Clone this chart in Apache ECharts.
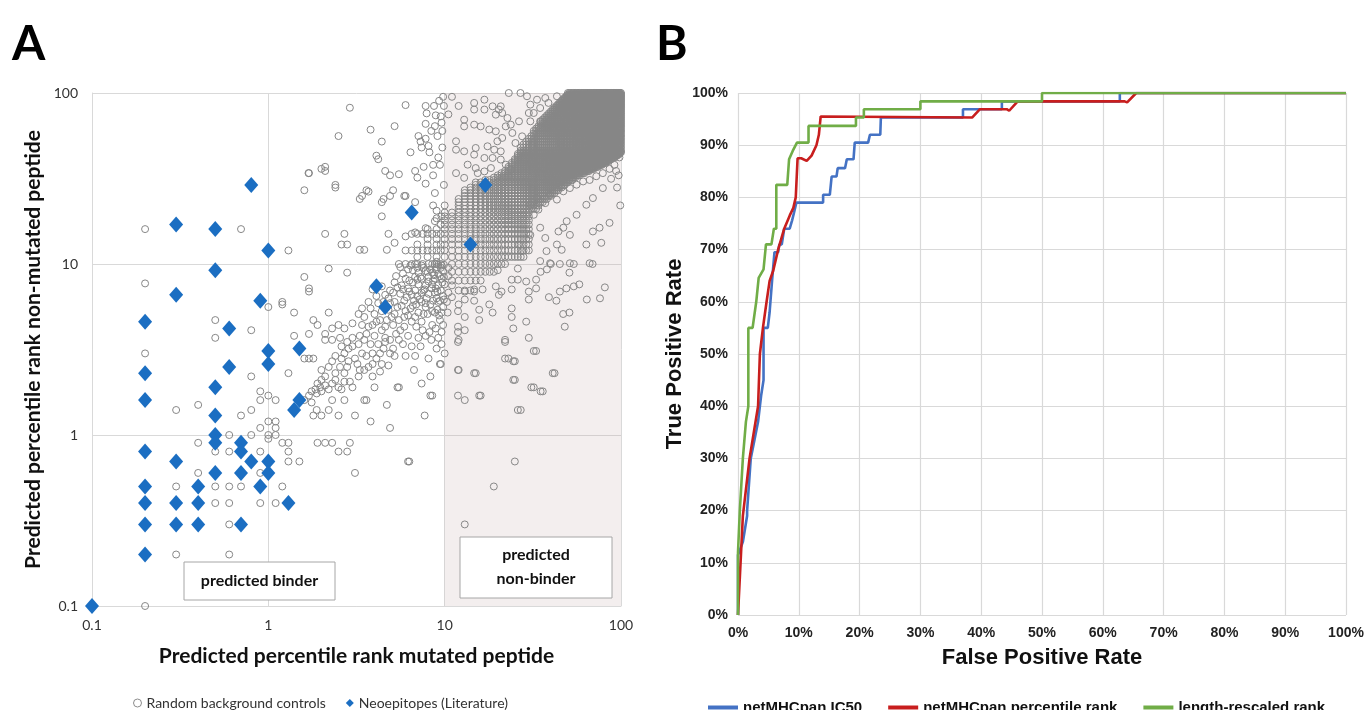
<!DOCTYPE html>
<html>
<head>
<meta charset="utf-8">
<script src="https://cdn.jsdelivr.net/npm/echarts@6/dist/echarts.min.js"></script>
<style>
html,body{margin:0;padding:0;background:#fff;}
#chart{width:1368px;height:710px;}
</style>
</head>
<body>
<div id="chart"></div>
<script>
var chart = echarts.init(document.getElementById('chart'));

// ---- panel A : percentile ranks (x = mutated, y = non-mutated) ----
var rankTicks = [0.1, 1, 10, 100];
var bgName = 'Random background controls';
var neoName = 'Neoepitopes (Literature)';

// background controls, binder side (x <= ~1.5)
var bgBinderSide = [
  [0.2,16],[0.7,16],[0.2,7.7],[1.3,12],[0.5,4.7],[0.5,3.7],[0.8,4.1],[1.0,5.6],[1.2,6.0],[0.2,3.0],
  [0.3,1.4],[0.4,1.5],[0.7,1.3],[0.8,1.4],[0.9,1.8],[1.0,1.7],[1.1,1.6],[0.9,1.6],[0.8,2.2],[1.3,2.3],
  [0.6,1.0],[0.8,1.0],[0.9,1.1],[1.0,1.2],[1.1,1.2],[1.0,1.0],[1.1,1.1],[1.1,1.0],[1.2,0.9],[0.4,0.9],
  [0.5,0.8],[0.6,0.8],[0.9,0.8],[1.3,0.8],[1.3,0.7],[1.5,0.7],[0.4,0.6],[0.9,0.6],[0.3,0.5],[0.5,0.5],
  [0.6,0.5],[0.7,0.5],[1.2,0.5],[0.5,0.4],[0.6,0.4],[0.9,0.4],[1.1,0.4],[0.6,0.3],[0.3,0.2],[0.6,0.2],
  [0.2,0.1],[1.0,0.95],[1.4,5.2],[1.2,5.8],[1.4,3.8],[1.3,0.9]
];

// background controls, 1.5 < x < 10
var bgMiddle = [
  [1.9,0.9],[2.1,0.9],[2.3,0.9],[2.9,0.9],[2.5,0.8],[2.8,0.8],[6.2,0.7],[6.3,0.7],[3.1,0.6],
  [2.2,1.4],[2.5,1.3],[3.1,1.3],[3.6,1.6],[4.7,1.5],[5.4,1.9],[4.9,1.1],[7.7,1.3],[8.3,1.7],[8.3,2.2],
  [9.4,2.6],[3.5,1.6],[3.8,1.2],[8.5,1.7],[8.1,2.8],[5.5,1.9],[8.4,3.6],[9.0,3.2],[9.5,2.6],
  [6.0,10],[6.4,9.8],[6.8,10],[7.4,9.8],[8.1,10],[8.8,10],[9.6,9.8],[7.1,8.9],[7.8,9.1],[8.5,8.9],
  [9.2,8.75],[9.8,9.1],[6.8,8.4],[7.4,8.2],[8.1,8.4],[8.8,8.2],[9.6,8.2],[7.1,7.6],[7.8,7.5],[8.5,7.6],
  [9.2,7.5],[10,7.6],[5.2,7.8],[5.7,7.5],[6.2,7.2],[6.8,7.0],[7.4,6.8],[8.1,6.7],[8.8,6.8],[9.8,6.5],
  [5.1,6.8],[5.6,6.7],[6.1,6.4],[6.7,6.1],[7.4,6.0],[8.3,5.8],[9.2,6.0],[9.8,5.6],[4.8,6.3],[5.2,6.0],
  [5.7,5.7],[6.4,5.5],[7.1,5.2],[8.0,5.1],[8.8,5.2],[4.8,5.4],[5.2,5.1],[5.9,4.9],[6.5,4.6],[7.4,4.6],
  [8.5,4.4],[9.4,4.7],[4.7,4.7],[5.1,4.4],[5.6,4.1],[6.2,3.8],[7.1,3.7],[7.8,3.8],[9.2,3.7],[9.6,4.0],
  [5.5,3.6],[6.6,9.2],[7.6,9.5],[8.3,9.3],[9.0,9.6],[6.3,8.0],[7.0,8.1],[8.6,8.0],[9.4,8.5],[7.7,7.1],
  [8.9,7.2],[9.5,7.0],[6.5,6.6],[7.9,6.3],[9.0,6.3],[5.9,6.1],[6.9,5.8],[7.8,5.6],[9.1,5.4],
  [5.3,8.5],[5.8,8.8],[6.2,9.3],[5.6,9.6],[7.0,9.5],[8.0,9.0],[8.9,9.3],[9.5,9.5],[6.0,8.2],[6.6,7.8],
  [7.3,8.4],[8.1,7.9],[8.7,8.6],[9.9,8.4],[9.7,7.8],[9.1,6.9],[8.4,7.2],[7.6,7.0],[7.0,6.5],[6.3,6.9],
  [5.8,7.1],[5.4,7.3],[4.9,7.0],[4.6,6.6],[4.4,7.4],[4.9,5.9],[5.4,5.6],[6.0,5.3],[6.6,5.7],[7.2,6.2],
  [7.8,5.9],[8.6,6.1],[9.4,6.1],[9.9,6.2],[9.6,5.2],[8.5,5.3],[7.6,5.1],[6.8,4.9],[6.2,5.0],[5.5,4.7],
  [5.0,4.9],[4.4,5.3],[4.1,4.6],[3.7,4.3],[3.6,3.9],[3.3,3.8],[3.0,3.3],[2.7,3.0],[3.2,2.6],[3.6,2.9],
  [4.3,3.0],[4.6,3.5],[5.3,3.9],[5.9,4.3],[6.9,4.3],[7.5,4.1],[8.2,4.0],[8.9,4.2],[9.8,4.4],[9.3,5.0],
  [5.1,3.2],[5.8,3.4],[6.5,3.3],[7.3,3.3],[2.4,2.1],[2.7,2.05],[3.3,2.4],[3.9,2.6],[4.4,2.6],[2.0,2.4],
  [1.9,2.0],[1.7,1.7],[2.3,1.6],[2.7,1.6],[4.0,1.9],[6.7,2.4],[7.4,2.0],[9.6,3.4],[10,3.0],[9.2,9.9],
  [9.9,9.9],[9.0,10.3],
  [3.9,7.1],[4.1,6.5],[3.7,6.0],[3.4,5.5],[3.8,5.5],[3.25,5.1],[3.5,4.9],[4.0,5.1],[4.3,4.7],[3.9,4.4],
  [4.4,4.1],[4.0,3.8],[4.6,3.7],[3.4,4.4],[3.0,4.5],[2.7,4.2],[2.5,4.4],[2.3,4.2],[2.1,3.9],[2.1,3.6],
  [2.3,3.6],[2.55,3.7],[2.8,3.5],[3.0,3.7],[3.25,3.4],[3.5,3.6],[3.8,3.4],[4.2,3.4],[4.5,3.2],[4.9,3.0],
  [5.2,2.9],[6.0,2.9],[6.8,2.9],[2.6,3.3],[2.85,3.2],[3.4,3.0],[3.9,3.0],[4.1,2.8],[3.7,2.5],[3.5,2.4],
  [3.1,2.8],[2.85,2.7],[2.6,2.8],[2.4,2.9],[2.3,2.7],[2.55,2.5],[2.8,2.5],[2.7,2.3],[2.4,2.3],[2.1,2.2],
  [2.2,2.5],[2.0,2.1],[2.1,1.95],[1.97,1.9],[1.85,1.85],[1.76,1.8],[1.88,1.75],[2.0,1.8],[2.2,1.85],[2.3,2.0],
  [2.5,1.9],[2.9,2.05],[3.0,1.9],[2.6,1.85],[3.25,2.2],[3.9,2.2],[4.3,2.35],[4.8,2.55],[1.76,1.55],[1.88,1.4],
  [1.8,1.3],[2.0,1.3],[1.6,1.6],[1.6,2.8],[1.7,2.8],[1.8,2.8],[1.7,3.9],[1.8,4.7],[1.9,4.4],[2.2,5.2],
  [1.6,8.4],[1.7,7.2],[1.7,6.9],[2.2,9.4],[2.8,8.9],[4.7,5.6],[4.5,6.0],[4.2,5.9],[4.6,4.3],[4.9,3.6],
  [2.9,82],[2.5,56],[3.8,61],[4.4,52],[5.2,64],[6.0,85],[7.8,84],[7.9,76],[8.9,74],[9.9,84],
  [7.8,66],[8.8,64],[9.6,67],[7.1,56],[7.3,52],[7.8,54],[8.1,49],[7.4,48],[4.1,43],[4.2,41],
  [2.1,37],[2.0,36],[1.69,34],[2.4,29],[1.6,27],[3.4,25],[3.7,26.5],[4.6,35],[4.9,33],[5.5,33.5],
  [6.8,35],[7.6,37],[8.6,38],[9.4,38],[8.6,33],[7.0,32],[7.8,29.5],[9.9,29],[5.1,27],[4.9,25],
  [4.4,23],[6.0,25],[6.8,23],[8.8,26],[10,22],[4.4,19],[2.1,15],[2.7,15],[2.6,13],[2.8,13],
  [3.3,12.1],[3.5,12.1],[4.7,12.1],[5.2,13.3],[4.8,15],[6.0,14.5],[6.8,15.3],[7.8,16.2],[8.8,17.8],[9.6,19],
  [8.6,22],[9.0,20.5],[8.7,84],[9.3,90],[9.8,95],[1.7,34],[2.1,35],[2.4,28],[3.3,24],[3.6,27],
  [4.5,24],[5.9,25],[6.4,45],[8.2,45],[9.2,42],[9.7,48],[9.1,56],[9.7,60],[8.4,60],[9.5,73],
  [8,16],[9,16],[10,16],[6.5,15],[7,15],[7.5,15],[8,15],[8.5,15],[9,15],[9.5,15],[10,15],
  [8,14],[9,14],[10,14],[7,13],[8,13],[9,13],[9.5,13],[10,13],[6,12],[6.5,12],[7,12],[7.5,12],
  [8,12],[8.5,12],[9,12],[9.5,12],[10,12],[7,11],[8,11],[9,11],[10,11],[5.5,10],[6.5,10],[7,10],
  [7.5,10],[8.5,10],[9,10],[9.5,10],[10,17],[10,18],[10,19],[10,20],[9.5,17],[9,18.5]
];

// background controls, non-binder side (x >= 10), outside the dense band
var bgNonBinder = [
  [14.7,87.5],[16.8,91.4],[14.7,80],[16.8,80],[18.7,83.6],[20.8,83.6],[20.3,80],[19.5,74.7],[21.2,76.4],[22.7,71.4],
  [12.9,69.8],[12.9,63.8],[14.7,65.3],[16,63.8],[17.9,61.1],[19.5,59.7],[23.1,100],[26.9,100],[29.3,95.7],[30.6,85.5],
  [30,76.4],[26.4,68.3],[23.7,65.3],[22.2,63.8],[24.2,58.4],[27.5,55.8],[25.2,51],[21.2,54.6],[19.9,52.2],[20.8,45.6],
  [19.1,46.6],[17.5,48.8],[15,47.7],[14.7,43.6],[12.9,45.6],[16.8,41.7],[18.7,41.7],[20.8,40.8],[22.2,38.1],[23.7,35.6],
  [11.6,52.2],[11.6,46.6],[13.5,38.1],[15,36.4],[11.6,34],[12.9,31.9],[15.4,34],[16.8,34.8],[18.3,36.4],[33.4,91.4],
  [37.2,93.5],[38.8,87.5],[43.3,95.7],[34.8,81.7],[32,76.4],[30.6,68.3],[34.8,68.3],[11,95],[12,84],[10.5,75],
  [30.6,22.2],[33.4,24.3],[37.2,22.7],[39.6,25.4],[43.3,23.8],[47.1,26.6],[51.3,27.8],[56,29.1],[61,30.4],[66.4,31],
  [72.4,32.6],[78.9,34],[86.1,36],[91.8,38],[93.8,35],[87.9,31.5],[78.9,27.8],[69.3,24.3],[63.6,22.2],[56,19.4],
  [49.2,17.8],[47.1,16.3],[44.2,15.5],[51.3,14.8],[69.3,15.5],[75.6,16.3],[86.1,17.4],[77.3,13.3],[63.6,13],[43.3,13],
  [46.1,12.1],[37.8,11.9],[34.8,10.4],[39.6,10.1],[51.3,10.1],[66.4,10.1],[26.4,13],[27.5,11.9],[30.6,14.8],[34.8,16.3],
  [37.2,14.2],[32,19.4],[34,20.8],[95,28],[98,42],[90,45],[97,33],[82,40],[99,22],[40,10],
  [45,10],[54,10],[69,10],[35,9.0],[38,9.3],[51,8.9],[33,8.1],[33,7.2],[30,6.9],[30,6.2],
  [39,6.4],[43,6.1],[45,6.9],[49,7.2],[54,7.4],[58,7.6],[81,7.3],[76,6.3],[64,6.2],[47,5.1],
  [51,5.2],[48,4.3],[24,5.5],[24,4.9],[29,4.6],[24.5,4.2],[30,3.7],[32,3.1],[22,3.5],[23,2.8],
  [24.5,2.7],[24.5,2.1],[31,1.9],[35,1.8],[41,2.3],[26,1.4],[11.9,5.3],[13,4.9],[11.9,4.3],[11.9,4.0],
  [11.9,3.5],[13,4.1],[11.9,2.4],[14.7,2.3],[11.9,1.7],[13,1.6],[15.7,1.7],[14.7,6.1],[15.7,5.4],[15.7,4.7],
  [18.7,5.2],[17.9,5.8],[14.7,6.9],[13,6.2],[13,6.9],[14.7,7.1],[16.4,7.1],[19.5,7.4],[20.3,6.6],[21,6.9],
  [24,7.1],[24,8.1],[26,8.1],[29,7.9],[12,2.4],[15,2.3],[16,1.7],[25,2.1],[27,1.4],[32,1.9],
  [36,1.8],[42,2.3],[22,2.8],[25,2.7],[33,3.1],[12,3.6],[22,3.6],[25,0.7],[19,0.5],[13,0.3],
  [10.5,9.5],[10.5,8.5],[11,7.5],[10.5,6.8],[10.3,6.0],[10.4,5.2],[11,6.4],[12,5.8],[20,9.2],[26,9.4]
];

// dense band of integer ranks: [y, first x, last x], one circle per integer x
var bgGridRows = [
  [7,12,14],[8,11,16],[9,11,19],[10,11,22],[11,11,28],[12,11,30],[13,11,30],[14,11,30],[15,11,30],
  [16,11,30],[17,11,30],[18,11,30],[19,11,30],[20,11,30],[21,12,33],[22,12,34],[23,12,36],[24,12,38],
  [25,13,40],[26,13,42],[27,13,44],[28,14,46],[29,15,48],[30,15,50],[31,17,53],[32,19,55],[33,20,58],
  [34,21,62],[35,22,66],[36,23,70],[37,23,74],[38,24,78],[39,24,82],[40,25,85],[41,25,88],[42,26,92],
  [43,26,95],[44,26,98],[45,27,100],[46,27,100],[48,27,100],[50,28,100],[52,29,100],[54,30,100],
  [56,31,100],[58,32,100],[60,32,100],[62,33,100],[64,34,100],[66,35,100],[68,35,100],[70,36,100],
  [72,37,100],[74,38,100],[76,39,100],[78,40,100],[80,41,100],[82,42,100],[84,43,100],[86,44,100],
  [88,45,100],[90,46,100],[92,47,100],[94,48,100],[96,49,100],[98,50,100],[100,50,100]
];

var neoepitopes = [
  [0.1,0.1],[0.2,4.6],[0.2,2.3],[0.2,1.6],[0.2,0.8],[0.2,0.5],[0.2,0.4],[0.2,0.3],[0.2,0.2],
  [0.3,17],[0.3,6.6],[0.3,0.7],[0.3,0.4],[0.3,0.3],
  [0.4,0.5],[0.4,0.4],[0.4,0.3],
  [0.5,16],[0.5,9.2],[0.5,1.9],[0.5,1.3],[0.5,1.0],[0.5,0.9],[0.5,0.6],
  [0.6,4.2],[0.6,2.5],
  [0.7,0.9],[0.7,0.8],[0.7,0.6],[0.7,0.3],
  [0.8,29],[0.8,0.7],[0.9,6.1],[0.9,0.5],
  [1,12],[1,3.1],[1,2.6],[1,0.7],[1,0.6],
  [1.3,0.4],[1.4,1.4],[1.5,1.6],[1.5,3.2],
  [4.1,7.4],[4.6,5.6],[6.5,20],[14,13],[17,29]
];

// ---- panel B : ROC curves, [false positive %, true positive %] ----
var ic50Curve = [
  [0,0],[0,11.5],[0.8,14],[1.5,19],[1.5,20],[2.1,30],[2.7,33.5],[3.3,37],[3.8,42],[4.2,45],[4.2,55],[4.9,55],
  [5.2,58],[5.6,64],[6,69.5],[6.6,69.5],[6.8,71],[7.2,71],[7.6,74],[8.5,74],[8.9,75.6],[9.2,77],[9.6,79],
  [14,79],[14,80.5],[15.1,80.5],[15.4,84],[16.2,84],[16.4,85.6],[17.6,85.6],[17.9,87.3],[19,87.3],[19.2,90.5],
  [21.4,90.5],[21.7,92],[23.4,92],[23.5,95.3],[37,95.3],[37,96.9],[43.4,96.9],[43.4,98.4],[62.8,98.4],
  [62.8,100],[100,100]
];
var percentileCurve = [
  [0,0],[0.8,19],[1.9,30],[3.3,40],[3.6,50],[4.1,55],[4.7,60],[5.2,64],[5.8,66],[6.6,70],[7.6,74],
  [8.5,76.5],[9.1,78],[9.5,80],[9.8,87.5],[10.4,87.5],[11.3,87],[12.1,88],[12.9,90],[13.3,92],[13.6,95.5],
  [38.5,95.3],[38.8,95],[39.8,96.9],[44.2,96.9],[44.6,96.6],[46,98.4],[63.6,98.4],[64,98.2],[65.5,100],[100,100]
];
var rescaledCurve = [
  [0,0],[0,12],[0.3,20],[0.8,30],[1.3,37],[1.7,40],[1.7,55],[2.4,55],[3,60],[3.4,64.6],[4.2,66.2],
  [4.6,71],[5.5,71],[5.9,74],[6.3,74],[6.3,82.4],[8.1,82.4],[8.4,87.3],[9,88.9],[9.7,90.5],[11.6,90.5],
  [11.6,93.7],[19.4,93.7],[19.4,95.3],[20.7,95.3],[20.7,96.9],[30,96.9],[30,98.4],[50,98.4],[50,100],[100,100]
];
var rocNames = ['netMHCpan IC50', 'netMHCpan percentile rank', 'length-rescaled rank'];
var rocColors = ['#4472c4', '#c81e1e', '#70ad47'];

// expand the integer band rows into points
var bgGrid = [];
bgGridRows.forEach(function (r) {
  for (var x = r[1]; x <= r[2]; x++) bgGrid.push([x, r[0]]);
});
var bgAll = bgBinderSide.concat(bgMiddle, bgGrid, bgNonBinder);

var gridColor = '#d9d9d9';
var fontA = 'Lato';
var fontB = 'Liberation Sans';

var option = {
  animation: false,
  backgroundColor: '#ffffff',
  grid: [
    {left: 92, top: 93, width: 529, height: 513, outerBoundsMode: 'none'},
    {left: 738, top: 93, width: 608, height: 522, outerBoundsMode: 'none'}
  ],
  xAxis: [
    {
      type: 'log', logBase: 10, min: rankTicks[0], max: rankTicks[3], gridIndex: 0,
      name: 'Predicted percentile rank mutated peptide', nameLocation: 'middle', nameGap: 40,
      nameTextStyle: {fontFamily: fontA, fontWeight: 'bold', fontSize: 21, color: '#111'},
      axisLine: {lineStyle: {color: gridColor}}, axisTick: {show: false},
      axisLabel: {fontFamily: fontA, fontSize: 14, color: '#333', margin: 12,
        formatter: function (v) { return String(+(+v).toPrecision(3)); }},
      splitLine: {show: true, lineStyle: {color: gridColor}}
    },
    {
      type: 'value', min: 0, max: 100, interval: 10, gridIndex: 1,
      name: 'False Positive Rate', nameLocation: 'middle', nameGap: 32,
      nameTextStyle: {fontFamily: fontB, fontWeight: 'bold', fontSize: 22, color: '#111'},
      axisLine: {show: false}, axisTick: {show: false},
      axisLabel: {fontFamily: fontB, fontWeight: 'bold', fontSize: 14, color: '#222', margin: 11, formatter: '{value}%'},
      splitLine: {show: true, lineStyle: {color: gridColor, width: 1.2}}
    }
  ],
  yAxis: [
    {
      type: 'log', logBase: 10, min: rankTicks[0], max: rankTicks[3], gridIndex: 0,
      name: 'Predicted percentile rank non-mutated peptide', nameLocation: 'middle', nameGap: 48,
      nameTextStyle: {fontFamily: fontA, fontWeight: 'bold', fontSize: 21, color: '#111'},
      axisLine: {show: true, lineStyle: {color: gridColor}}, axisTick: {show: false},
      axisLabel: {fontFamily: fontA, fontSize: 14, color: '#333', margin: 14,
        formatter: function (v) { return String(+(+v).toPrecision(3)); }},
      splitLine: {show: true, lineStyle: {color: gridColor}}
    },
    {
      type: 'value', min: 0, max: 100, interval: 10, gridIndex: 1,
      name: 'True Positive Rate', nameLocation: 'middle', nameGap: 52,
      nameTextStyle: {fontFamily: fontB, fontWeight: 'bold', fontSize: 22, color: '#111'},
      axisLine: {show: false}, axisTick: {show: false},
      axisLabel: {fontFamily: fontB, fontWeight: 'bold', fontSize: 14, color: '#222', margin: 10, formatter: '{value}%'},
      splitLine: {show: true, lineStyle: {color: gridColor, width: 1.2}}
    }
  ],
  legend: [
    {
      left: 128, top: 691, itemWidth: 8, itemHeight: 8, itemGap: 20,
      textStyle: {fontFamily: fontA, fontSize: 14, color: '#333'},
      data: [
        {name: bgName, icon: 'circle', itemStyle: {color: '#ffffff', borderColor: '#8c8c8c', borderWidth: 1, opacity: 1}},
        {name: neoName, icon: 'diamond', itemStyle: {color: '#1b6ec2', opacity: 1}}
      ]
    },
    {
      left: 703, top: 695, itemWidth: 30, itemHeight: 4, itemGap: 26, icon: 'rect',
      textStyle: {fontFamily: fontB, fontWeight: 'bold', fontSize: 15, color: '#111'},
      data: rocNames
    }
  ],
  graphic: [
    {type: 'text', left: 12, top: 21, z: 100, style: {text: 'A', font: 'bold 48px Lato', fill: '#000'}},
    {type: 'text', left: 656, top: 21, z: 100, style: {text: 'B', font: 'bold 48px Lato', fill: '#000'}},
    {type: 'rect', z: 100, shape: {x: 184, y: 562, width: 151, height: 38},
      style: {fill: '#fff', stroke: '#a6a6a6', lineWidth: 1}},
    {type: 'text', z: 101, x: 259.5, y: 581,
      style: {text: 'predicted binder', font: 'bold 16px Lato', fill: '#111', textAlign: 'center', textVerticalAlign: 'middle'}},
    {type: 'rect', z: 100, shape: {x: 460, y: 537, width: 152, height: 61},
      style: {fill: '#fff', stroke: '#a6a6a6', lineWidth: 1}},
    {type: 'text', z: 101, x: 536, y: 567,
      style: {text: 'predicted\nnon-binder', font: 'bold 16px Lato', lineHeight: 24, fill: '#111', textAlign: 'center', textVerticalAlign: 'middle'}}
  ],
  series: [
    {
      name: 'shade', type: 'scatter', xAxisIndex: 0, yAxisIndex: 0, data: [], z: 1, silent: true,
      markArea: {silent: true, itemStyle: {color: 'rgba(190,160,160,0.18)'},
        data: [[{xAxis: 10, yAxis: 0.1}, {xAxis: 100, yAxis: 100}]]}
    },
    {
      name: bgName, type: 'scatter', xAxisIndex: 0, yAxisIndex: 0, data: bgAll, z: 2,
      symbol: 'circle', symbolSize: 7, progressive: 0, silent: true,
      itemStyle: {color: 'rgba(0,0,0,0)', borderColor: '#868686', borderWidth: 1, opacity: 1}
    },
    {
      name: neoName, type: 'scatter', xAxisIndex: 0, yAxisIndex: 0, data: neoepitopes, z: 3,
      symbol: 'diamond', symbolSize: [14, 16], itemStyle: {color: '#1b6ec2', opacity: 1}
    }
  ].concat([ic50Curve, percentileCurve, rescaledCurve].map(function (d, i) {
    return {
      name: rocNames[i], type: 'line', xAxisIndex: 1, yAxisIndex: 1, data: d, z: 3 + i,
      symbol: 'none', showSymbol: false, color: rocColors[i],
      lineStyle: {color: rocColors[i], width: 2.6}, itemStyle: {color: rocColors[i]}
    };
  }))
};
chart.setOption(option);
</script>
</body>
</html>
